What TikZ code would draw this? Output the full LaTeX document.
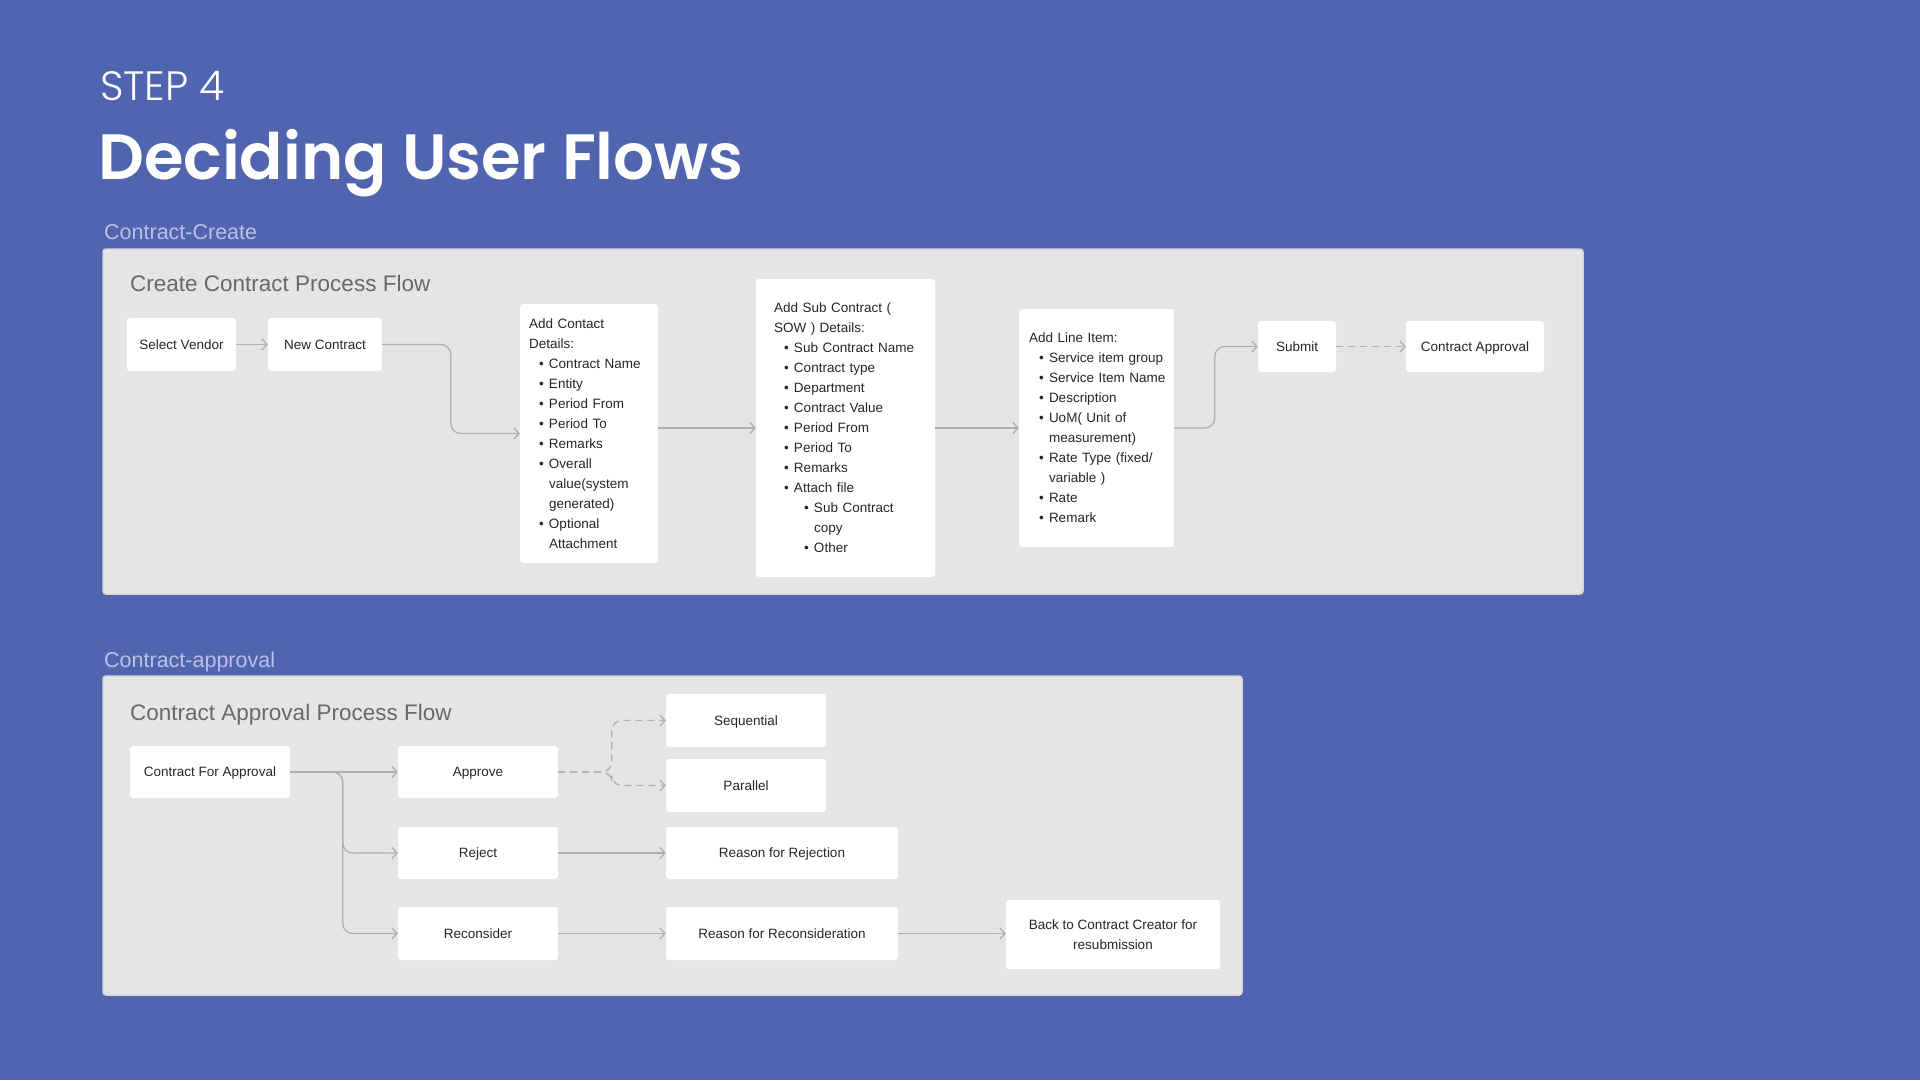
\documentclass[tikz,border=0pt]{standalone}
\usepackage{fontspec}
\setmainfont{Liberation Sans}
\newfontfamily\titlefont{Poppins SemiBold}
\newfontfamily\stepfont{Poppins Light}
\usetikzlibrary{arrows.meta}
\definecolor{bgblue}{RGB}{80,100,175}
\definecolor{panelgray}{RGB}{229,229,229}
\definecolor{panelborder}{RGB}{214,214,214}
\definecolor{linegray}{RGB}{176,176,176}
\definecolor{labelblue}{RGB}{186,194,232}
\definecolor{headgray}{RGB}{105,105,105}
\definecolor{boxtext}{RGB}{38,38,38}
\newcommand{\bitem}[1]{\mbox{\hspace*{10pt}\makebox[10pt][l]{\textbullet}#1}}
\newcommand{\bcont}[1]{\mbox{\hspace*{20pt}#1}}
\newcommand{\bsub}[1]{\mbox{\hspace*{30pt}\makebox[10pt][l]{\textbullet}#1}}
\newcommand{\bsubc}[1]{\mbox{\hspace*{40pt}#1}}
\tikzset{
  panel/.style={fill=panelgray, draw=panelborder, line width=1.5pt, rounded corners=3pt},
  boxbase/.style={fill=white, draw=none, rounded corners=3pt, text=boxtext, font=\fontsize{13.5}{20}\selectfont, align=center, inner sep=0pt},
  box/.style={boxbase, text height=11pt, text depth=2pt},
  listbox/.style={fill=white, draw=none, rounded corners=3pt, text=boxtext, font=\fontsize{13.5}{20}\selectfont, align=left, inner ysep=0pt},
  arr/.style={draw=linegray, line width=1.3pt, -{Straight Barb[length=5pt,width=11pt]}},
  dasharr/.style={arr, dash pattern=on 7pt off 5pt},
  grouplabel/.style={anchor=base west, text=labelblue, font=\fontsize{21.5}{25}\selectfont, inner sep=0pt},
  panelhead/.style={anchor=base west, text=headgray, font=\fontsize{22.5}{27}\selectfont, inner sep=0pt}
}
\begin{document}
\begin{tikzpicture}[x=1pt,y=-1pt]
\fill[bgblue] (0,0) rectangle (1920,1080);
\useasboundingbox (0,0) rectangle (1920,1080);

% headings
\node[anchor=base west, inner sep=0pt, text=white, font=\stepfont\fontsize{41}{48}\selectfont] (step) at (100,100) {STEP 4};
\node[anchor=base west, inner sep=0pt, text=white, font=\titlefont\fontsize{64}{76}\selectfont] (title) at (98,179) {Deciding User Flows};

% ---------- panel 1 ----------
\node[grouplabel] (lbl1) at (104,239) {Contract-Create};
\draw[panel] (103,249) rectangle (1583,594);
\node[panelhead] (head1) at (130,291) {Create Contract Process Flow};

\node[box, minimum width=109, minimum height=53] (sv) at (181.5,344.5) {Select Vendor};
\node[box, minimum width=114, minimum height=53] (nc) at (325,344.5) {New Contract};
\node[listbox, minimum width=138, minimum height=259, text width=120, inner xsep=9] (contact) at (589,433.5) {%
\mbox{Add Contact}\\
\mbox{Details:}\\
\bitem{Contract Name}\\
\bitem{Entity}\\
\bitem{Period From}\\
\bitem{Period To}\\
\bitem{Remarks}\\
\bitem{Overall}\\
\bcont{value(system}\\
\bcont{generated)}\\
\bitem{Optional}\\
\bcont{Attachment}};
\node[listbox, minimum width=179, minimum height=298, text width=143, inner xsep=18] (sub) at (845.5,428) {%
\mbox{Add Sub Contract (}\\
\mbox{SOW ) Details:}\\
\bitem{Sub Contract Name}\\
\bitem{Contract type}\\
\bitem{Department}\\
\bitem{Contract Value}\\
\bitem{Period From}\\
\bitem{Period To}\\
\bitem{Remarks}\\
\bitem{Attach file}\\
\bsub{Sub Contract}\\
\bsubc{copy}\\
\bsub{Other}};
\node[listbox, minimum width=155, minimum height=238, text width=135, inner xsep=10] (line) at (1096.5,428) {%
\mbox{Add Line Item:}\\
\bitem{Service item group}\\
\bitem{Service Item Name}\\
\bitem{Description}\\
\bitem{UoM( Unit of}\\
\bcont{measurement)}\\
\bitem{Rate Type (fixed/}\\
\bcont{variable )}\\
\bitem{Rate}\\
\bitem{Remark}};
\node[box, minimum width=78, minimum height=51] (submit) at (1297,346.5) {Submit};
\node[box, minimum width=138, minimum height=51] (ca) at (1475,346.5) {Contract Approval};

\draw[arr] (sv) -- (nc);
\draw[arr, rounded corners=10pt] (nc.east) -| ([xshift=-69pt]contact.west) -- (contact.west);
\draw[arr] (contact.east |- sub.west) -- (sub.west);
\draw[arr] (sub.east) -- (line.west);
\draw[arr, rounded corners=10pt] (line.east) -| ([xshift=-43pt]submit.west) -- (submit.west);
\draw[dasharr] (submit) -- (ca);

% ---------- panel 2 ----------
\node[grouplabel] (lbl2) at (104,667) {Contract-approval};
\draw[panel] (103,676) rectangle (1242,995);
\node[panelhead] (head2) at (130,720) {Contract Approval Process Flow};

\node[box, minimum width=160, minimum height=52] (cfa) at (210,772) {Contract For Approval};
\node[box, minimum width=160, minimum height=52] (approve) at (478,772) {Approve};
\node[box, minimum width=160, minimum height=53] (seq) at (746,720.5) {Sequential};
\node[box, minimum width=160, minimum height=53] (par) at (746,785.5) {Parallel};
\node[box, minimum width=160, minimum height=52] (reject) at (478,853) {Reject};
\node[box, minimum width=232, minimum height=52] (rr) at (782,853) {Reason for Rejection};
\node[box, minimum width=160, minimum height=53] (recon) at (478,933.5) {Reconsider};
\node[box, minimum width=232, minimum height=53] (rrc) at (782,933.5) {Reason for Reconsideration};
\node[boxbase, minimum width=214, minimum height=69] (back) at (1113,934.5) {Back to Contract Creator for\\resubmission};

\draw[arr] (cfa) -- (approve);
\draw[arr, rounded corners=10pt] (cfa.east) -| ([xshift=-55pt]reject.west) -- (reject.west);
\draw[arr, rounded corners=10pt] (cfa.east) -| ([xshift=-55pt]recon.west) -- (recon.west);
\draw[dasharr, rounded corners=10pt] (approve.east) -| ([xshift=-54pt]seq.west) -- (seq.west);
\draw[dasharr, rounded corners=10pt] (approve.east) -| ([xshift=-54pt]par.west) -- (par.west);
\draw[arr] (reject) -- (rr);
\draw[arr] (recon) -- (rrc);
\draw[arr] (rrc.east) -- (rrc.east -| back.west);
\end{tikzpicture}
\end{document}
